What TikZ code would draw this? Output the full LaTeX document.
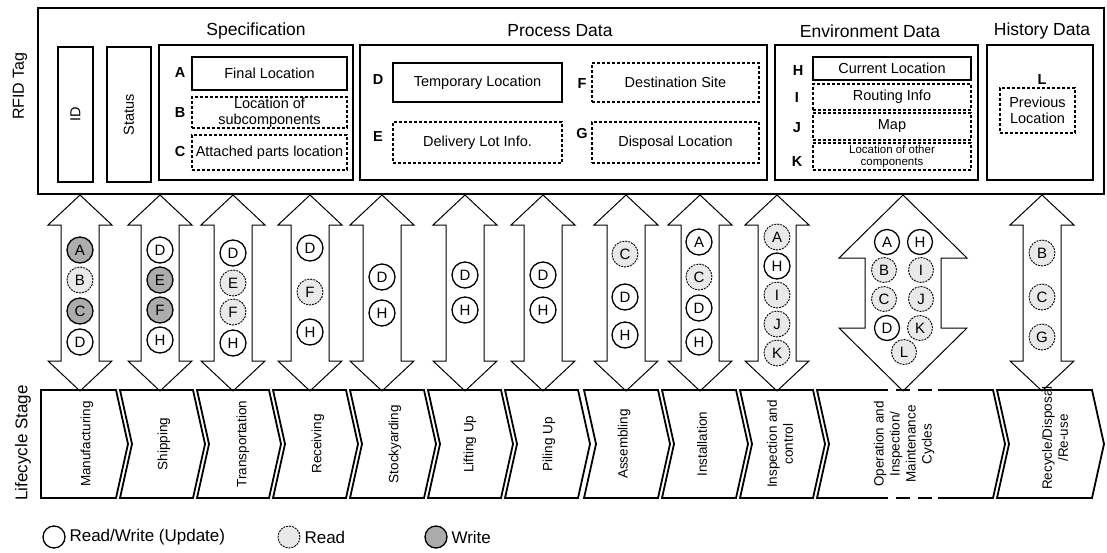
\documentclass[tikz,border=0pt]{standalone}
\usepackage{fontspec}
\setmainfont{Liberation Sans}
\usepackage{tikz}

\tikzset{
  tagbox/.style={draw, line width=2.4pt, inner sep=0pt},
  groupbox/.style={draw, line width=1.6pt, inner sep=0pt, font=\fontsize{14.5}{16}\selectfont},
  fieldbox/.style={draw, line width=1.3pt, inner sep=0pt, align=center, font=\fontsize{14.5}{16}\selectfont},
  optbox/.style={fieldbox, line width=1.1pt, dash pattern=on 3pt off 2pt},
  grouptitle/.style={font=\fontsize{17.5}{20}\selectfont},
  fieldkey/.style={font=\bfseries\fontsize{14.5}{16}\selectfont},
  rw/.style={circle, draw, line width=1.3pt, fill=white, minimum size=26pt, inner sep=0pt, font=\fontsize{15}{15}\selectfont},
  rd/.style={rw, fill=gray!17, line width=0.9pt, dash pattern=on 2pt off 1pt},
  wr/.style={rw, fill=gray!65},
  arrowbody/.style={draw, line width=1pt, fill=white, line join=miter},
  stagebody/.style={draw, line width=1.8pt, line join=miter},
  stagename/.style={rotate=90, align=center, font=\fontsize{13.5}{16}\selectfont},
  sidelabel/.style={rotate=90, font=\fontsize{17}{20}\selectfont},
  legendtext/.style={anchor=west, font=\fontsize{17}{20}\selectfont},
}

% block arrow between tag and stage: centre x, head half width, shaft half width, head length
\newcommand{\tagarrow}[4]{%
  \draw[arrowbody] (#1,195) -- ++(#2,#4) -- ++(#3-#2,0) -- ++(0,{196-2*#4}) -- ++(#2-#3,0)
    -- (#1,391) -- ++(-#2,-#4) -- ++(#2-#3,0) -- ++(0,{2*#4-196}) -- ++(#3-#2,0) -- cycle;}
% chevron of a lifecycle stage: left x, right x
\newcommand{\stageshape}[2]{%
  \draw[stagebody] (#1,390) -- (#2,390) -- (#2+12,444) -- (#2,498) -- (#1,498) -- (#1+12,444) -- cycle;}

\begin{document}
\begin{tikzpicture}[x=1pt, y=-1pt]
\useasboundingbox (0,0) rectangle (1107,552);

% RFID tag
\node[tagbox, minimum width=1066pt, minimum height=186pt] (tag) at (571,101) {};
\node[sidelabel, font=\fontsize{16}{18}\selectfont] (taglabel) at (20,86) {RFID Tag};

\node[groupbox, rotate=90, minimum width=135pt, minimum height=35pt] (id) at (75.5,114.5) {ID};
\node[groupbox, rotate=90, minimum width=135pt, minimum height=44pt] (status) at (129,114.5) {Status};

% specification
\node[groupbox, minimum width=194pt, minimum height=135pt] (spec) at (256,112.5) {};
\node[grouptitle] (spectitle) at (256,31) {Specification};
\node[fieldkey] (keyA) at (180,73) {A};
\node[fieldbox, minimum width=155pt, minimum height=33pt] (finalloc) at (269.5,73.5) {Final Location};
\node[fieldkey] (keyB) at (180,113) {B};
\node[optbox, minimum width=155pt, minimum height=31pt] (subloc) at (269.5,112.5) {Location of\\subcomponents};
\node[fieldkey] (keyC) at (180,152) {C};
\node[optbox, minimum width=155pt, minimum height=35pt] (partloc) at (269.5,152.5) {Attached parts location};

% process data
\node[groupbox, minimum width=407pt, minimum height=135pt] (process) at (563.5,112.5) {};
\node[grouptitle] (processtitle) at (560,31) {Process Data};
\node[fieldkey] (keyD) at (378,80) {D};
\node[fieldbox, minimum width=169pt, minimum height=39pt] (temploc) at (477.5,82.5) {Temporary Location};
\node[fieldkey] (keyF) at (582,84) {F};
\node[optbox, minimum width=167pt, minimum height=39pt] (destsite) at (675.5,82.5) {Destination Site};
\node[fieldkey] (keyE) at (378,137) {E};
\node[optbox, minimum width=169pt, minimum height=41pt] (lotinfo) at (477.5,142.5) {Delivery Lot Info.};
\node[fieldkey] (keyG) at (582,134) {G};
\node[optbox, minimum width=167pt, minimum height=41pt] (disploc) at (675.5,142.5) {Disposal Location};

% environment data
\node[groupbox, minimum width=203pt, minimum height=135pt] (environment) at (876.5,112.5) {};
\node[grouptitle] (envtitle) at (870,31) {Environment Data};
\node[fieldkey] (keyH) at (798,71) {H};
\node[fieldbox, minimum width=158pt, minimum height=23pt] (curloc) at (892,68.5) {Current Location};
\node[fieldkey] (keyI) at (797,98) {I};
\node[optbox, minimum width=158pt, minimum height=26pt] (routing) at (892,97) {Routing Info};
\node[fieldkey] (keyJ) at (797,128) {J};
\node[optbox, minimum width=158pt, minimum height=27pt] (map) at (892,126.5) {Map};
\node[fieldkey] (keyK) at (797,162) {K};
\node[optbox, minimum width=158pt, minimum height=27pt, font=\fontsize{11.5}{12}\selectfont] (otherloc) at (892,156.5) {Location of other\\components};

% history data
\node[groupbox, minimum width=106pt, minimum height=135pt] (history) at (1040,112.5) {};
\node[grouptitle] (histtitle) at (1042,31) {History Data};
\node[fieldkey] (keyL) at (1042,80) {L};
\node[optbox, minimum width=75pt, minimum height=45pt] (prevloc) at (1037.5,110.5) {Previous\\Location};

% arrows between tag and stages
\tagarrow{80}{32}{19}{30}
\tagarrow{160}{32}{19}{30}
\tagarrow{233}{32}{19}{30}
\tagarrow{310}{32}{19}{30}
\tagarrow{382}{32}{19}{30}
\tagarrow{465}{32}{19}{30}
\tagarrow{543}{32}{19}{30}
\tagarrow{626}{32}{19}{30}
\tagarrow{700}{32}{19}{30}
\tagarrow{777}{32}{19}{30}
\tagarrow{903}{64}{38}{63}
\tagarrow{1042}{32}{19}{30}

% data read and written in each stage
\node[wr] (m-A) at (80,250) {A};
\node[rd] (m-B) at (80,280) {B};
\node[wr] (m-C) at (80,311) {C};
\node[rw] (m-D) at (80,342) {D};

\node[rw] (s-D) at (160,250) {D};
\node[wr] (s-E) at (160,280) {E};
\node[wr] (s-F) at (160,310) {F};
\node[rw] (s-H) at (160,340) {H};

\node[rw] (t-D) at (233,253) {D};
\node[rd] (t-E) at (233,283) {E};
\node[rd] (t-F) at (233,312) {F};
\node[rw] (t-H) at (233,343) {H};

\node[rw] (r-D) at (310,248) {D};
\node[rd] (r-F) at (310,292) {F};
\node[rw] (r-H) at (310,332) {H};

\node[rw] (y-D) at (382,277) {D};
\node[rw] (y-H) at (382,313) {H};

\node[rw] (l-D) at (465,275) {D};
\node[rw] (l-H) at (465,310) {H};

\node[rw] (p-D) at (543,275) {D};
\node[rw] (p-H) at (543,310) {H};

\node[rd] (a-C) at (625,254) {C};
\node[rw] (a-D) at (625,297) {D};
\node[rw] (a-H) at (625,335) {H};

\node[rw] (i-A) at (699,242) {A};
\node[rd] (i-C) at (699,277) {C};
\node[rw] (i-D) at (699,308) {D};
\node[rw] (i-H) at (699,342) {H};

\node[rd] (c-A) at (777,237) {A};
\node[rw] (c-H) at (777,266) {H};
\node[rd] (c-I) at (777,295) {I};
\node[rd] (c-J) at (777,324) {J};
\node[rd] (c-K) at (777,353) {K};

\node[rw, minimum size=25pt] (o-A) at (887,242) {A};
\node[rw, minimum size=25pt] (o-H) at (920,242) {H};
\node[rd, minimum size=25pt] (o-B) at (884,270) {B};
\node[rd, minimum size=25pt] (o-I) at (921,270) {I};
\node[rd, minimum size=25pt] (o-C) at (884,299) {C};
\node[rd, minimum size=25pt] (o-J) at (921,299) {J};
\node[rw, minimum size=25pt] (o-D) at (887,328) {D};
\node[rd, minimum size=25pt] (o-K) at (920,328) {K};
\node[rd, minimum size=25pt] (o-L) at (904,352) {L};

\node[rd] (e-B) at (1042,253) {B};
\node[rd] (e-C) at (1042,297) {C};
\node[rd] (e-G) at (1042,337) {G};

% lifecycle stages
\draw[stagebody] (41,390) -- (116,390) -- (128,444) -- (116,498) -- (41,498) -- cycle; % manufacturing
\stageshape{120}{193}
\stageshape{197}{269}
\stageshape{273}{346}
\stageshape{350}{424}
\stageshape{428}{501}
\stageshape{505}{578}
\stageshape{584}{658}
\stageshape{662}{736}
\stageshape{740}{813}
\draw[stagebody] (874,390) -- (817,390) -- (829,444) -- (817,498) -- (874,498); % operation, left
\draw[stagebody] (938,390) -- (993,390) -- (1005,444) -- (993,498) -- (938,498); % operation, right
\draw[stagebody, dash pattern=on 14pt off 8pt] (874,390) -- (938,390);
\draw[stagebody, dash pattern=on 14pt off 8pt] (874,498) -- (938,498);
\stageshape{997}{1092}

\node[stagename] (manufacturing) at (87,444) {Manufacturing};
\node[stagename] (shipping) at (164,444) {Shipping};
\node[stagename] (transportation) at (243,444) {Transportation};
\node[stagename] (receiving) at (318,444) {Receiving};
\node[stagename] (stockyarding) at (395,444) {Stockyarding};
\node[stagename] (lifting) at (470,444) {Lifting Up};
\node[stagename] (piling) at (549,444) {Piling Up};
\node[stagename] (assembling) at (624,444) {Assembling};
\node[stagename] (installation) at (702,444) {Installation};
\node[stagename] (inspection) at (780,444) {Inspection and\\control};
\node[stagename] (operation) at (904,444) {Operation and\\Inspection/\\Maintenance\\Cycles};
\node[stagename] (recycle) at (1055,438) {Recycle/Disposal\\/Re-use};
\node[sidelabel] (stagelabel) at (23,443) {Lifecycle Stage};

% legend
\node[rw, minimum size=22pt] (key-rw) at (54,537) {};
\node[legendtext] (key-rw-text) at (66,537) {Read/Write (Update)};
\node[rd, minimum size=22pt] (key-rd) at (289,537) {};
\node[legendtext] (key-rd-text) at (301,537) {Read};
\node[wr, minimum size=22pt] (key-wr) at (436,537) {};
\node[legendtext] (key-wr-text) at (448,537) {Write};
\end{tikzpicture}
\end{document}
